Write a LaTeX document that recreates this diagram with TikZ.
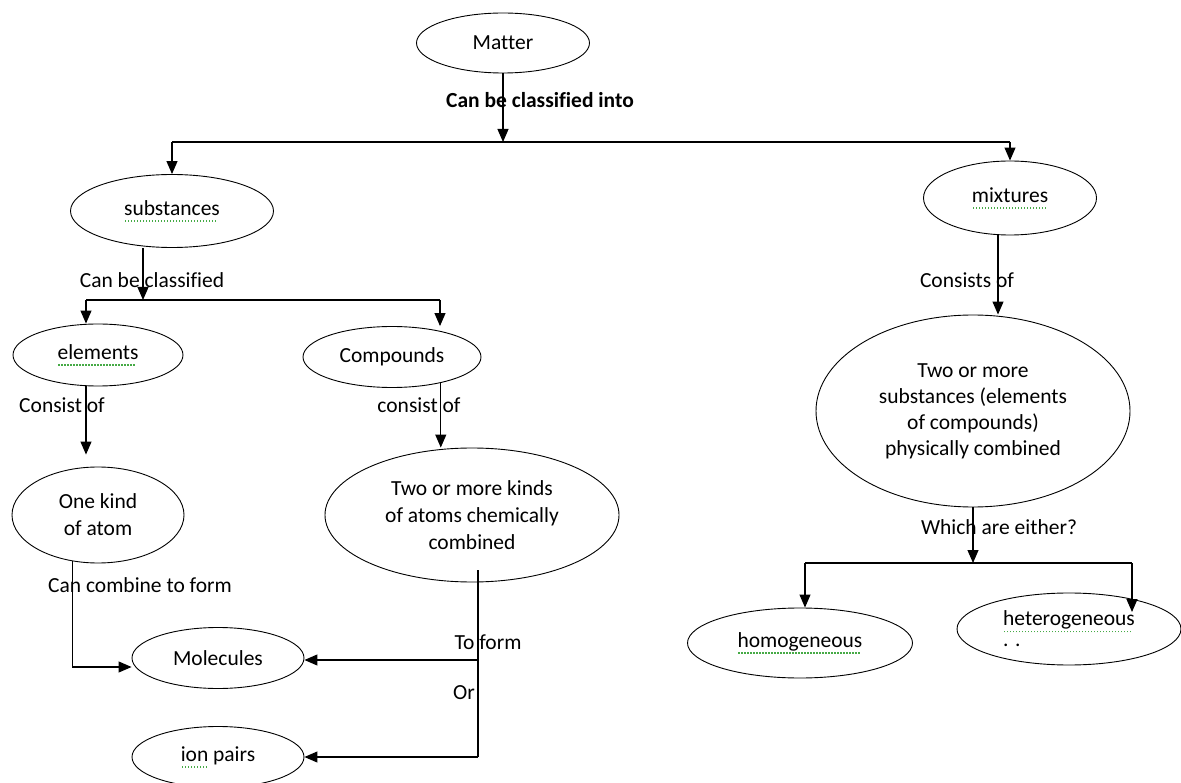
\documentclass[tikz,border=0pt]{standalone}
\usepackage{fontspec}
\setmainfont{Carlito}[Ligatures=NoCommon]
\usetikzlibrary{shapes.geometric,arrows.meta}
\definecolor{spellgreen}{RGB}{70,170,70}
\newcommand{\spl}[1]{\leavevmode\setbox0\hbox{#1}\rlap{\color{spellgreen}\raisebox{-0.3em}{\hbox to \wd0{\leaders\hbox to 3pt{\hss\rule{1.3pt}{1.3pt}\hss}\hfill}}}\box0\relax}

\begin{document}
\begin{tikzpicture}[x=1pt,y=-1pt]
    \tikzstyle{every node}=[font=\fontsize{21.5}{27}\selectfont]
    \tikzstyle{oval}=[ellipse,draw,line width=0.9pt,inner sep=0pt,align=center]
    \tikzstyle{link}=[line width=1.1pt]
    \tikzstyle{arr}=[link,-{Triangle[length=13pt,width=11pt]}]
    \useasboundingbox (0,0) rectangle (1181,783);

    \node (matter) at (503,43) [oval,minimum width=173pt,minimum height=60pt] {Matter};
    \node (substances) at (172,211) [oval,minimum width=203pt,minimum height=73pt] {\spl{substances}};
    \node (mixtures) at (1010,198) [oval,minimum width=173pt,minimum height=74pt] {\spl{mixtures}};
    \node (elements) at (98,355) [oval,minimum width=170pt,minimum height=62pt] {\spl{elements}};
    \node (compounds) at (392,357) [oval,minimum width=178pt,minimum height=61pt] {Compounds};
    \node (onekind) at (98,515) [oval,minimum width=172pt,minimum height=96pt] {One kind\\of atom};
    \node (kinds) at (472,515) [oval,minimum width=294pt,minimum height=134pt] {Two or more kinds\\of atoms chemically\\combined};
    \node (molecules) at (218,658) [oval,minimum width=172pt,minimum height=61pt] {Molecules};
    \node (ionpairs) at (218,757) [oval,minimum width=172pt,minimum height=61pt] {\spl{ion} pairs};
    \node (big) at (973,411) [oval,minimum width=314pt,minimum height=192pt,font=\fontsize{21.5}{26}\selectfont] {Two or more\\substances (elements\\of compounds)\\physically combined};
    \node (homogeneous) at (800,643) [oval,minimum width=225pt,minimum height=70pt] {\spl{homogeneous}};
    \node (heterogeneous) at (1069,629) [oval,minimum width=224pt,minimum height=72pt,align=left] {\spl{heterogeneous}\\[-6pt]. .};

    \node (classinto) at (540,100) {\textbf{Can be classified into}};
    \node (classified) at (152,280) {Can be classified};
    \node (consistof) at (62,405) {Consist of};
    \node (consistof2) at (419,405) {consist of};
    \node (combine) at (140,585) {Can combine to form};
    \node (toformlbl) at (488,642) {To form};
    \node (orlbl) at (464,693) {Or};
    \node (consistsof) at (967,280) {Consists of};
    \node (whicheither) at (999,527) {Which are either?};

    \coordinate (split1) at (503,142);
    \coordinate (subsL) at (172,142);
    \coordinate (mixR) at (1010,142);
    \coordinate (split2) at (143,300);
    \coordinate (elemL) at (86,300);
    \coordinate (compR) at (440,300);
    \coordinate (formtop) at (478,570);
    \coordinate (toform) at (478,660);
    \coordinate (formbot) at (478,757);
    \coordinate (mixdown) at (998,235);
    \coordinate (either) at (973,563);
    \coordinate (homL) at (805,563);
    \coordinate (hetR) at (1132,563);

    \draw [arr] (matter) -- (split1);
    \draw [link] (subsL) -- (mixR);
    \draw [arr] (subsL) -- (substances);
    \draw [arr] (mixR) -- (mixtures);
    \draw [arr] (substances.south -| split2) -- (split2);
    \draw [link] (elemL) -- (compR);
    \draw [arr] (elemL) -- (elemL |- elements.north);
    \draw [arr] (compR) -- (compR |- compounds.north);
    \draw [arr,shorten >=12pt] (elemL |- elements.south) -- (elemL |- onekind.north);
    \draw [arr] (compounds.332) -- (compounds.332 |- kinds.north);
    \draw [arr] (onekind.241) |- ([yshift=-9pt]molecules.west);
    \draw [link] (formtop) -- (formbot);
    \draw [arr] (toform) -- (toform -| molecules.east);
    \draw [arr] (formbot) -- (formbot -| ionpairs.east);
    \draw [arr] (mixdown |- mixtures.south) -- (mixdown |- big.north);
    \draw [arr] (big) -- (either);
    \draw [link] (homL) -- (hetR);
    \draw [arr] (homL) -- (homL |- homogeneous.north);
    \draw [arr,shorten >=17pt] (hetR) -- (hetR |- heterogeneous.center);
\end{tikzpicture}
\end{document}
